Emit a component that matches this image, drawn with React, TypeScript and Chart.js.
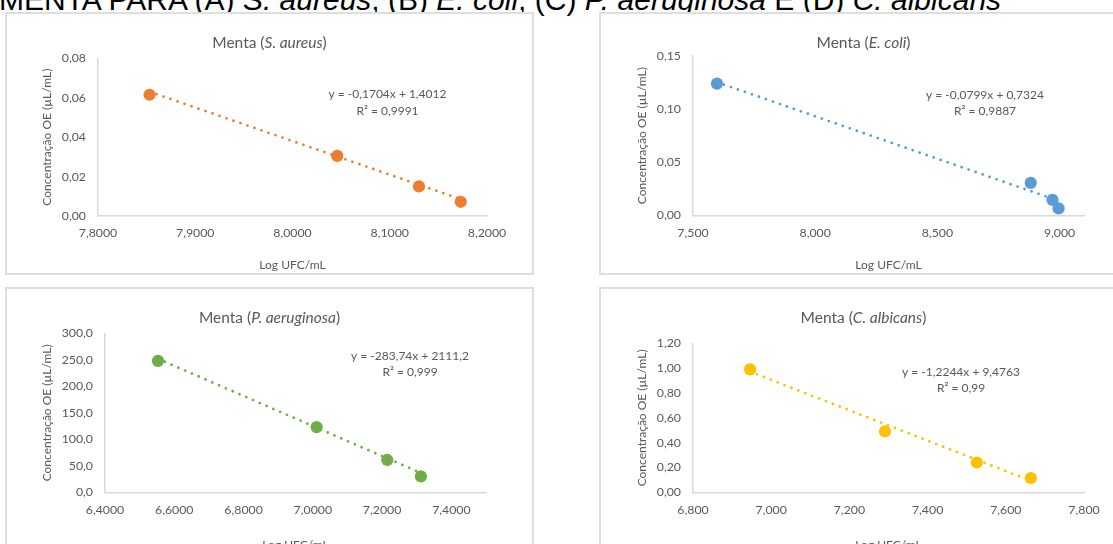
import React, { useEffect, useRef } from "react";
import { Chart, registerables } from "chart.js";

Chart.register(...registerables);

const FONT = "Lato, 'Open Sans', sans-serif";
const TEXT = "#595959";
const AXIS = "#d9d9d9";

// ---------- data ----------
const aureusX = [7.853, 8.046, 8.130, 8.173];
const aureusY = [0.0615, 0.0305, 0.015, 0.0072];
const aureusTrend = [-0.1704, 1.4012];
const aureusXTicks = [7.8, 7.9, 8.0, 8.1, 8.2];
const aureusYTicks = [0, 0.02, 0.04, 0.06, 0.08];

const coliX = [7.598, 8.882, 8.971, 8.996];
const coliY = [0.124, 0.0305, 0.0145, 0.0065];
const coliTrend = [-0.0799, 0.7324];
const coliXTicks = [7.5, 8.0, 8.5, 9.0];
const coliYTicks = [0, 0.05, 0.1, 0.15];

const aeruginosaX = [6.553, 7.011, 7.215, 7.312];
const aeruginosaY = [248, 123, 61, 30];
const aeruginosaTrend = [-283.74, 2111.2];
const aeruginosaXTicks = [6.4, 6.6, 6.8, 7.0, 7.2, 7.4];
const aeruginosaYTicks = [0, 50, 100, 150, 200, 250, 300];

const albicansX = [6.946, 7.291, 7.526, 7.664];
const albicansY = [0.99, 0.49, 0.24, 0.115];
const albicansTrend = [-1.2244, 9.4763];
const albicansXTicks = [6.8, 7.0, 7.2, 7.4, 7.6, 7.8];
const albicansYTicks = [0, 0.2, 0.4, 0.6, 0.8, 1.0, 1.2];

const xTitle = "Log UFC/mL";
const yTitle = "Concentração OE (µL/mL)";

type PanelCfg = {
  key: string;
  left: number;
  top: number;
  color: string;
  xs: number[];
  ys: number[];
  trend: number[];
  xTicks: number[];
  yTicks: number[];
  xMax: number;
  xDec: number;
  yDec: number;
  species: string;
  eq: string[];
  plot: { l: number; r: number; t: number; b: number };
  xTitleY: number;
  yTitleX: number;
  eqPos: { x: number; y1: number; y2: number };
};

const W = 529;
const H = 263;

const panels: PanelCfg[] = [
  {
    key: "aureus", left: 5, top: 12, color: "#ED7D31",
    xs: aureusX, ys: aureusY, trend: aureusTrend,
    xTicks: aureusXTicks, yTicks: aureusYTicks, xMax: 8.2, xDec: 4, yDec: 2,
    species: "S. aureus", eq: ["y = -0,1704x + 1,4012", "R² = 0,9991"],
    plot: { l: 93, r: 482, t: 46.3, b: 204 }, xTitleY: 253, yTitleX: 42,
    eqPos: { x: 382.5, y1: 82, y2: 99 },
  },
  {
    key: "coli", left: 599, top: 12, color: "#5B9BD5",
    xs: coliX, ys: coliY, trend: coliTrend,
    xTicks: coliXTicks, yTicks: coliYTicks, xMax: 9.1, xDec: 3, yDec: 2,
    species: "E. coli", eq: ["y = -0,0799x + 0,7324", "R² = 0,9887"],
    plot: { l: 94, r: 485, t: 44, b: 203.3 }, xTitleY: 253, yTitleX: 42.7,
    eqPos: { x: 386, y1: 83, y2: 99 },
  },
  {
    key: "aeruginosa", left: 5, top: 287, color: "#70AD47",
    xs: aeruginosaX, ys: aeruginosaY, trend: aeruginosaTrend,
    xTicks: aeruginosaXTicks, yTicks: aeruginosaYTicks, xMax: 7.5, xDec: 4, yDec: 1,
    species: "P. aeruginosa", eq: ["y = -283,74x + 2111,2", "R² = 0,999"],
    plot: { l: 100, r: 481, t: 46.3, b: 205.3 }, xTitleY: 258, yTitleX: 41.7,
    eqPos: { x: 405, y1: 69, y2: 84.7 },
  },
  {
    key: "albicans", left: 599, top: 287, color: "#FFC000",
    xs: albicansX, ys: albicansY, trend: albicansTrend,
    xTicks: albicansXTicks, yTicks: albicansYTicks, xMax: 7.8, xDec: 3, yDec: 2,
    species: "C. albicans", eq: ["y = -1,2244x + 9,4763", "R² = 0,99"],
    plot: { l: 94, r: 485, t: 56.3, b: 205.3 }, xTitleY: 258, yTitleX: 42.7,
    eqPos: { x: 362, y1: 85, y2: 101 },
  },
];

const fmt = (v: number, d: number) => Number(v).toFixed(d).replace(".", ",");

const annotPlugin = {
  id: "annot",
  afterDraw(chart: any, _args: any, opts: any) {
    const ctx = chart.ctx as CanvasRenderingContext2D;
    ctx.save();
    ctx.fillStyle = TEXT;
    ctx.textBaseline = "middle";
    // chart title with italic species
    const normal = `15.5px ${FONT}`;
    const italic = `italic 15.5px ${FONT}`;
    const parts: [string, string][] = [
      ["Menta (", normal],
      [opts.species, italic],
      [")", normal],
    ];
    let total = 0;
    const widths = parts.map(([t, f]) => {
      ctx.font = f;
      const w = ctx.measureText(t).width;
      total += w;
      return w;
    });
    let x = chart.width / 2 - total / 2;
    ctx.textAlign = "left";
    parts.forEach(([t, f], i) => {
      ctx.font = f;
      ctx.fillText(t, x, opts.titleY);
      x += widths[i];
    });
    // trendline equation
    ctx.font = `12px ${FONT}`;
    ctx.textAlign = "center";
    ctx.fillText(opts.eq[0], opts.eqPos.x, opts.eqPos.y1);
    ctx.fillText(opts.eq[1], opts.eqPos.x, opts.eqPos.y2);
    ctx.restore();
  },
};

function Panel({ cfg }: { cfg: PanelCfg }) {
  const ref = useRef<HTMLCanvasElement>(null);
  useEffect(() => {
    if (!ref.current) return;
    const x0 = Math.min(...cfg.xs);
    const x1 = Math.max(...cfg.xs);
    const [m, b] = cfg.trend;
    const lh = 12 * 1.2;
    const chart = new Chart(ref.current, {
      type: "scatter",
      data: {
        datasets: [
          {
            label: "trend",
            data: [
              { x: x0, y: m * x0 + b },
              { x: x1, y: m * x1 + b },
            ],
            showLine: true,
            borderColor: cfg.color,
            borderWidth: 2.8,
            borderDash: [0, 7.4],
            borderCapStyle: "round",
            pointRadius: 0,
            clip: false,
          } as any,
          {
            label: cfg.species,
            data: cfg.xs.map((xv, i) => ({ x: xv, y: cfg.ys[i] })),
            backgroundColor: cfg.color,
            borderColor: cfg.color,
            borderWidth: 0,
            pointRadius: 6.1,
            clip: false,
          } as any,
        ],
      },
      options: {
        animation: false,
        responsive: false,
        devicePixelRatio: 1,
        layout: {
          padding: { left: 0, top: cfg.plot.t, right: W - cfg.plot.r, bottom: 0 },
        },
        plugins: {
          legend: { display: false },
          tooltip: { enabled: false },
          annot: {
            species: cfg.species,
            titleY: 31,
            eq: cfg.eq,
            eqPos: cfg.eqPos,
          },
        } as any,
        scales: {
          x: {
            type: "linear",
            min: cfg.xTicks[0],
            max: cfg.xMax,
            grid: { display: false, drawTicks: false },
            border: { display: true, color: AXIS, width: 1.5 },
            afterBuildTicks: (s: any) => {
              s.ticks = cfg.xTicks.map((v) => ({ value: v }));
            },
            afterFit: (s: any) => {
              s.height = H - cfg.plot.b;
            },
            ticks: {
              color: TEXT,
              font: { family: FONT, size: 12.3 },
              padding: 10,
              maxRotation: 0,
              autoSkip: false,
              callback: (v: any) => fmt(v, cfg.xDec),
            },
            title: {
              display: true,
              text: xTitle,
              color: TEXT,
              font: { family: FONT, size: 12 },
              padding: { top: 0, bottom: H - cfg.xTitleY - lh / 2 },
            },
          },
          y: {
            type: "linear",
            min: cfg.yTicks[0],
            max: cfg.yTicks[cfg.yTicks.length - 1],
            grid: { display: false, drawTicks: false },
            border: { display: true, color: AXIS, width: 1.5 },
            afterBuildTicks: (s: any) => {
              s.ticks = cfg.yTicks.map((v) => ({ value: v }));
            },
            afterFit: (s: any) => {
              s.width = cfg.plot.l;
            },
            ticks: {
              color: TEXT,
              font: { family: FONT, size: 12.3 },
              padding: 12,
              autoSkip: false,
              callback: (v: any) => fmt(v, cfg.yDec),
            },
            title: {
              display: true,
              text: yTitle,
              color: TEXT,
              font: { family: FONT, size: 12 },
              padding: { top: cfg.yTitleX - lh / 2, bottom: 0 },
            },
          },
        },
      },
      plugins: [annotPlugin as any],
    });
    return () => chart.destroy();
  }, [cfg]);

  return (
    <div
      style={{
        position: "absolute",
        left: cfg.left,
        top: cfg.top,
        width: W,
        height: H,
        background: "#fff",
      }}
    >
      <canvas ref={ref} width={W} height={H} style={{ position: "absolute", left: 0, top: 0, width: W, height: H }} />
      <div
        style={{
          position: "absolute",
          left: 0,
          top: 0,
          width: W,
          height: H,
          boxSizing: "border-box",
          border: "2px solid #dedede",
          pointerEvents: "none",
        }}
      />
    </div>
  );
}

export default function App() {
  return (
    <div
      style={{
        position: "absolute",
        left: 0,
        top: 0,
        width: 1113,
        height: 544,
        overflow: "hidden",
        background: "#fff",
      }}
    >
      <div
        style={{
          position: "absolute",
          left: -1,
          top: -15.5,
          whiteSpace: "nowrap",
          fontFamily: "'Liberation Sans', Arial, sans-serif",
          fontSize: 30,
          lineHeight: "30px",
          color: "#000",
        }}
      >
        MENTA PARA (A) <i>S. aureus</i>, (B) <i>E. coli</i>, (C) <i>P. aeruginosa</i> E (D) <i>C. albicans</i>
      </div>
      {panels.map((p) => (
        <Panel key={p.key} cfg={p} />
      ))}
    </div>
  );
}
